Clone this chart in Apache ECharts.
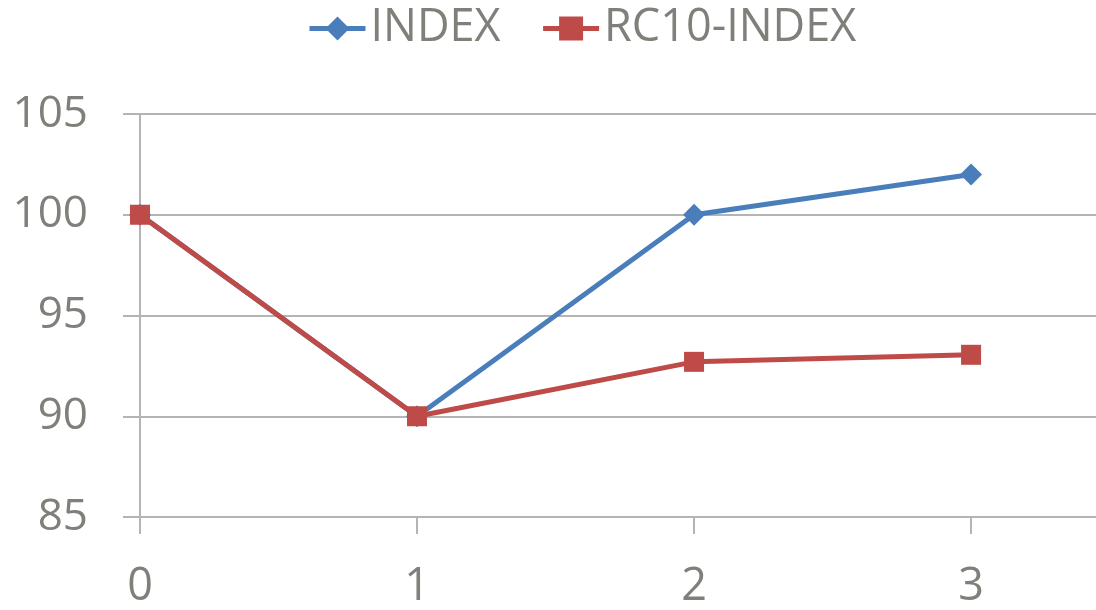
<!DOCTYPE html>
<html>
<head>
<meta charset="utf-8">
<script src="https://cdn.jsdelivr.net/npm/echarts@6/dist/echarts.min.js"></script>
<style>
  html, body { margin: 0; padding: 0; background: #fff; }
  #chart { width: 1096px; height: 610px; }
</style>
</head>
<body>
<div id="chart"></div>
<script>
// Period steps on the x axis and the two index series
const periods = [0, 1, 2, 3];
const indexValues = [100, 90, 100, 102];
const rc10Values = [100, 90, 92.7, 93.05];
const yTicks = [85, 90, 95, 100, 105];

const gridColor = '#b4b4b4';
const textColor = '#80807a';
const font = 'Open Sans';

const toPairs = vals => periods.map((p, i) => [p, vals[i]]);

const chart = echarts.init(document.getElementById('chart'), null, { renderer: 'canvas' });
chart.setOption({
  animation: false,
  textStyle: { fontFamily: font },
  legend: {
    top: 1,
    left: 302,
    itemWidth: 56,
    itemHeight: 30,
    itemGap: 40,
    lineStyle: { width: 5 },
    textStyle: { fontSize: 45, color: textColor, fontFamily: font },
    data: ['INDEX', 'RC10-INDEX']
  },
  grid: { left: 140, right: 0, top: 114, bottom: 88, containLabel: false },
  xAxis: {
    type: 'value',
    min: 0,
    max: 3.451,
    interval: 1,
    axisLine: { show: true, lineStyle: { color: gridColor, width: 2 } },
    axisTick: { show: true, length: 17, lineStyle: { color: gridColor, width: 2 } },
    axisLabel: {
      margin: 48, fontSize: 45, color: textColor, fontFamily: font,
      showMaxLabel: false,
      formatter: v => (periods.includes(v) ? String(v) : '')
    },
    splitLine: { show: false }
  },
  yAxis: {
    type: 'value',
    min: yTicks[0],
    max: yTicks[yTicks.length - 1],
    interval: 5,
    axisLine: { show: true, lineStyle: { color: gridColor, width: 2 } },
    axisTick: { show: true, length: 17, lineStyle: { color: gridColor, width: 2 } },
    axisLabel: { margin: 52, fontSize: 44, color: textColor, fontFamily: font },
    splitLine: { show: true, lineStyle: { color: gridColor, width: 2 } }
  },
  series: [
    {
      name: 'INDEX',
      type: 'line',
      data: toPairs(indexValues),
      symbol: 'diamond',
      symbolSize: 22,
      itemStyle: { color: '#4a7ebb' },
      lineStyle: { color: '#4a7ebb', width: 5 },
      z: 2
    },
    {
      name: 'RC10-INDEX',
      type: 'line',
      data: toPairs(rc10Values),
      symbol: 'rect',
      symbolSize: 20,
      itemStyle: { color: '#be4b48' },
      lineStyle: { color: '#be4b48', width: 5 },
      z: 3
    }
  ]
});
</script>
</body>
</html>
